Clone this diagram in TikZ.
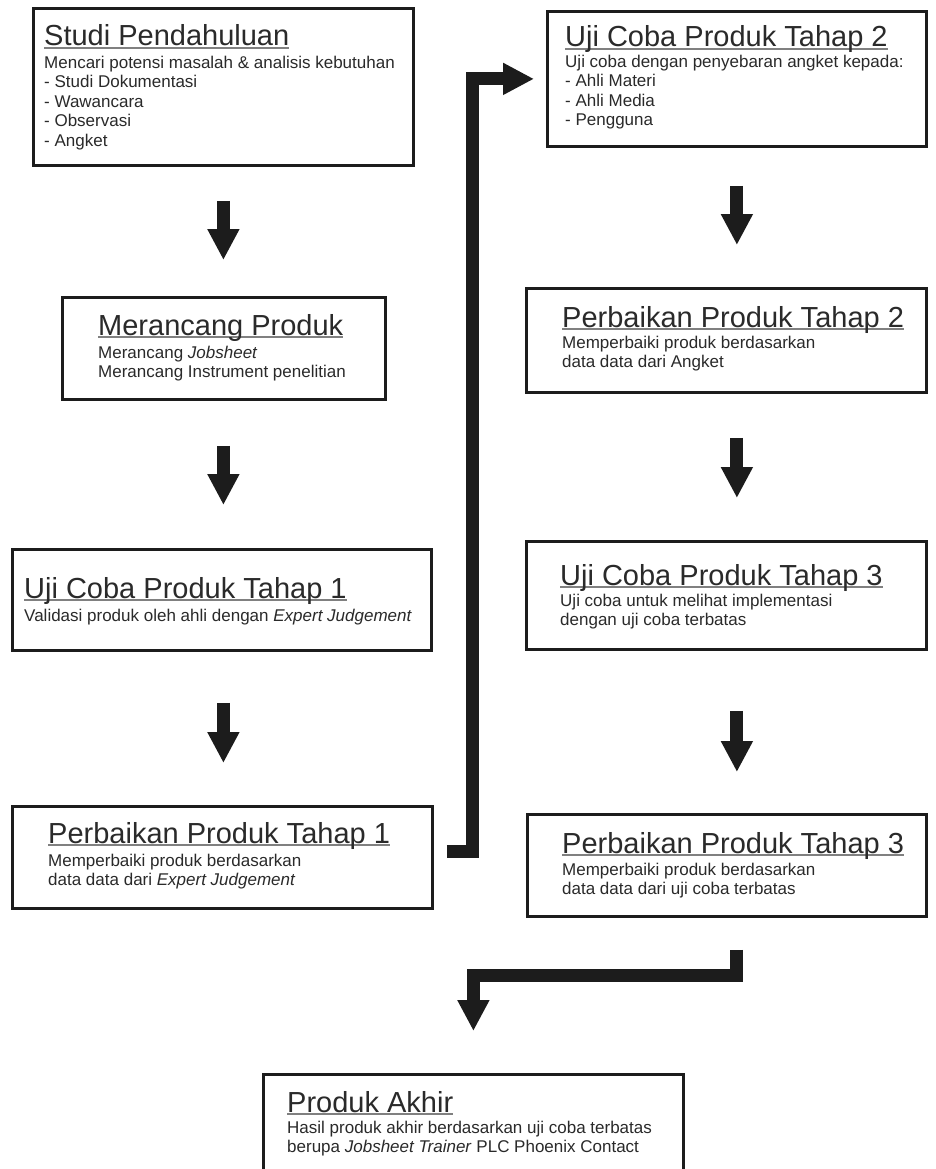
\documentclass[tikz,border=0pt]{standalone}
\usepackage{fontspec}
\setmainfont{Liberation Sans}
\usetikzlibrary{positioning,arrows.meta}
\definecolor{ink}{HTML}{1C1C1C}
\definecolor{txt}{HTML}{2A2A2A}
\newcommand{\boxtitle}[1]{\setbox0\hbox{#1}\rlap{\color{gray}\rule[-2.6pt]{\wd0}{1.4pt}}\box0}
\tikzset{
  stage/.style={draw=ink,line width=2.8pt,fill=white,inner sep=0pt,anchor=north west},
  stagetitle/.style={anchor=base west,inner sep=0pt,text=txt,font=\fontsize{29}{34}\selectfont},
  stagetext/.style={anchor=north west,inner sep=0pt,align=left,text=txt,font=\fontsize{17}{19.5}\selectfont},
  blockarrow/.style={draw=ink,line width=13pt,line join=miter,-{Triangle[length=31pt,width=30pt]}}
}
\begin{document}
\begin{tikzpicture}[x=1pt,y=-1pt]
	\useasboundingbox (0,0) rectangle (935,1169);
	\clip (0,0) rectangle (935,1169);
	% left column
	\node[stage,minimum width=380pt,minimum height=157pt] (b1) at (32,7) {};
	\node[stage,minimum width=323pt,minimum height=102pt] (b2) at (61,296) {};
	\node[stage,minimum width=419pt,minimum height=101pt] (b3) at (11,548) {};
	\node[stage,minimum width=420pt,minimum height=102pt] (b4) at (11,805) {};
	% right column
	\node[stage,minimum width=379pt,minimum height=135pt] (b5) at (546,10) {};
	\node[stage,minimum width=400pt,minimum height=104pt] (b6) at (525,287) {};
	\node[stage,minimum width=400pt,minimum height=108pt] (b7) at (525,540) {};
	\node[stage,minimum width=399pt,minimum height=102pt] (b8) at (526,813) {};
	% end
	\node[stage,minimum width=420pt,minimum height=130pt] (b9) at (262,1073) {};

	\node[stagetitle] (t1) at ([xshift=12pt,yshift=-39pt]b1.north west) {\boxtitle{Studi Pendahuluan}};
	\node[stagetext] (d1) at ([yshift=-9.8pt]t1.base west) {Mencari potensi masalah \& analisis kebutuhan\\- Studi Dokumentasi\\- Wawancara\\- Observasi\\- Angket};
	\node[stagetitle] (t2) at ([xshift=37pt,yshift=-39pt]b2.north west) {\boxtitle{Merancang Produk}};
	\node[stagetext] (d2) at ([yshift=-10.8pt]t2.base west) {Merancang \textit{Jobsheet}\\Merancang Instrument penelitian};
	\node[stagetitle] (t3) at ([xshift=13pt,yshift=-50pt]b3.north west) {\boxtitle{Uji Coba Produk Tahap 1}};
	\node[stagetext] (d3) at ([yshift=-10.8pt]t3.base west) {Validasi produk oleh ahli dengan \textit{Expert Judgement}};
	\node[stagetitle] (t4) at ([xshift=37pt,yshift=-38pt]b4.north west) {\boxtitle{Perbaikan Produk Tahap 1}};
	\node[stagetext] (d4) at ([yshift=-10.8pt]t4.base west) {Memperbaiki produk berdasarkan\\data data dari \textit{Expert Judgement}};
	\node[stagetitle] (t5) at ([xshift=19pt,yshift=-37pt]b5.north west) {\boxtitle{Uji Coba Produk Tahap 2}};
	\node[stagetext] (d5) at ([yshift=-7.8pt]t5.base west) {Uji coba dengan penyebaran angket kepada:\\- Ahli Materi\\- Ahli Media\\- Pengguna};
	\node[stagetitle] (t6) at ([xshift=37pt,yshift=-40pt]b6.north west) {\boxtitle{Perbaikan Produk Tahap 2}};
	\node[stagetext] (d6) at ([yshift=-8.8pt]t6.base west) {Memperbaiki produk berdasarkan\\data data dari Angket};
	\node[stagetitle] (t7) at ([xshift=35pt,yshift=-45pt]b7.north west) {\boxtitle{Uji Coba Produk Tahap 3}};
	\node[stagetext] (d7) at ([yshift=-8.8pt]t7.base west) {Uji coba untuk melihat implementasi\\dengan uji coba terbatas};
	\node[stagetitle] (t8) at ([xshift=36pt,yshift=-40pt]b8.north west) {\boxtitle{Perbaikan Produk Tahap 3}};
	\node[stagetext] (d8) at ([yshift=-9.8pt]t8.base west) {Memperbaiki produk berdasarkan\\data data dari uji coba terbatas};
	\node[stagetitle] (t9) at ([xshift=25pt,yshift=-39pt]b9.north west) {\boxtitle{Produk Akhir}};
	\node[stagetext] (d9) at ([yshift=-8.8pt]t9.base west) {Hasil produk akhir berdasarkan uji coba terbatas\\berupa \textit{Jobsheet Trainer} PLC Phoenix Contact};

	% straight arrows
	\foreach \a/\b/\c/\s/\e in {b1/b2/b1/34/36,b2/b3/b1/45/43,b3/b4/b1/51/42,b5/b6/b5/38/42,b6/b7/b5/44/42,b7/b8/b5/60/41}
		\draw[blockarrow,shorten <=\s pt,shorten >=\e pt] (\a.south -| \c.south) -- (\b.north -| \c.south);
	% elbows
	\coordinate (spine) at (472,0);
	\draw[blockarrow] ([xshift=13pt,yshift=6pt]b4.east) -| (spine |- b5.west) -- ([xshift=-12pt]b5.west);
	\draw[blockarrow] ([yshift=-32pt]b8.south -| b5.south) |- ([yshift=98pt]b9.north) -- ([yshift=42pt]b9.north);
\end{tikzpicture}
\end{document}
